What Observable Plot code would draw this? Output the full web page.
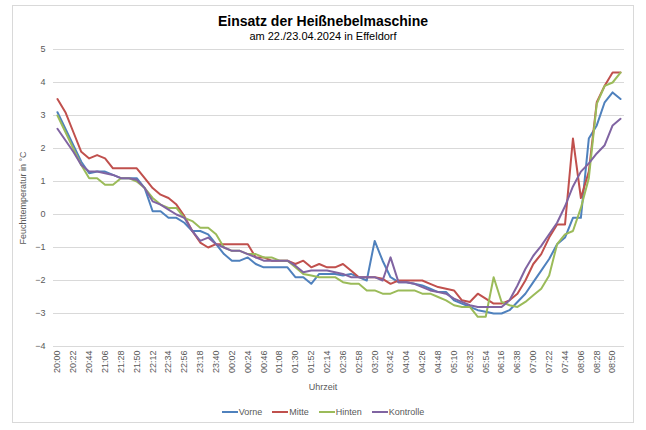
<!DOCTYPE html>
<html>
<head>
<meta charset="utf-8">
<script src="https://cdn.jsdelivr.net/npm/d3@7"></script>
<script src="https://cdn.jsdelivr.net/npm/@observablehq/plot@0.6"></script>
<style>
  body { margin: 0; background: #fff; font-family: "Liberation Sans", Arial, sans-serif; }
  #wrap { position: relative; width: 646px; height: 430px; overflow: hidden; background: #fff; }
  #frame { position: absolute; left: 12px; top: 5px; width: 620px; height: 416px; border: 1px solid #d9d9d9; }
  #title { position: absolute; left: 12px; width: 622px; top: 13px; text-align: center; font-weight: bold; font-size: 14px; color: #000; line-height: 16px; }
  #subtitle { position: absolute; left: 12px; width: 622px; top: 30px; text-align: center; font-size: 11px; color: #000; line-height: 12px; }
  #chart { position: absolute; left: 0; top: 40px; }
  #xlabel { position: absolute; left: 273px; width: 100px; top: 381px; text-align: center; font-size: 9px; color: #595959; line-height: 12px; }
  #legend { position: absolute; left: 0; width: 646px; top: 406px; display: flex; justify-content: center; align-items: center; font-size: 9px; color: #595959; line-height: 12px; }
  .item { display: flex; align-items: center; margin: 0 5px; }
  .sw { width: 16px; height: 2px; margin-right: 1px; }
</style>
</head>
<body>
<div id="wrap">
  <div id="frame"></div>
  <div id="title">Einsatz der Heißnebelmaschine</div>
  <div id="subtitle">am 22./23.04.2024 in Effeldorf</div>
  <div id="chart"></div>
  <div id="xlabel">Uhrzeit</div>
  <div id="legend"></div>
</div>
<script>
// Categories (every 11 minutes)
const times = ["20:00","20:11","20:22","20:33","20:44","20:55","21:06","21:17","21:28","21:39",
  "21:50","22:01","22:12","22:23","22:34","22:45","22:56","23:07","23:18","23:29",
  "23:40","23:51","00:02","00:13","00:24","00:35","00:46","00:57","01:08","01:19",
  "01:30","01:41","01:52","02:03","02:14","02:25","02:36","02:47","02:58","03:09",
  "03:20","03:31","03:42","03:53","04:04","04:15","04:26","04:37","04:48","04:59",
  "05:10","05:21","05:32","05:43","05:54","06:05","06:16","06:27","06:38","06:49",
  "07:00","07:11","07:22","07:33","07:44","07:55","08:06","08:17","08:28","08:39",
  "08:50","09:01"];

// Tick labels shown on the x axis
const xTicks = ["20:00","20:22","20:44","21:06","21:28","21:50","22:12","22:34","22:56","23:18",
  "23:40","00:02","00:24","00:46","01:08","01:30","01:52","02:14","02:36","02:58",
  "03:20","03:42","04:04","04:26","04:48","05:10","05:32","05:54","06:16","06:38",
  "07:00","07:22","07:44","08:06","08:28","08:50"];

const yTicks = [-4, -3, -2, -1, 0, 1, 2, 3, 4, 5];

// Series values (°C)
const vorne = [3.1, 2.6, 2.1, 1.6, 1.25, 1.3, 1.3, 1.2, 1.1, 1.1,
  1.1, 0.8, 0.1, 0.1, -0.1, -0.1, -0.25, -0.5, -0.5, -0.6,
  -0.9, -1.2, -1.4, -1.4, -1.3, -1.5, -1.6, -1.6, -1.6, -1.6,
  -1.9, -1.9, -2.1, -1.8, -1.8, -1.8, -1.85, -1.8, -1.9, -2.0,
  -0.8, -1.4, -1.9, -2.05, -2.05, -2.1, -2.15, -2.25, -2.35, -2.35,
  -2.6, -2.7, -2.8, -2.9, -2.95, -3.0, -3.0, -2.9, -2.65, -2.4,
  -2.05, -1.7, -1.35, -0.9, -0.7, -0.1, -0.1, 2.3, 2.7, 3.4,
  3.7, 3.5];

const mitte = [3.5, 3.1, 2.5, 1.9, 1.7, 1.8, 1.7, 1.4, 1.4, 1.4,
  1.4, 1.1, 0.8, 0.6, 0.5, 0.3, -0.05, -0.5, -0.85, -1.0,
  -0.9, -0.9, -0.9, -0.9, -0.9, -1.3, -1.3, -1.4, -1.4, -1.4,
  -1.5, -1.4, -1.6, -1.5, -1.6, -1.6, -1.5, -1.7, -1.9, -1.9,
  -1.9, -1.95, -2.1, -2.0, -2.0, -2.0, -2.0, -2.1, -2.2, -2.25,
  -2.3, -2.6, -2.65, -2.4, -2.55, -2.7, -2.7, -2.6, -2.4, -2.0,
  -1.5, -1.2, -0.7, -0.3, -0.3, 2.3, 0.5, 1.3, 3.4, 3.9,
  4.3, 4.3];

const hinten = [3.0, 2.5, 2.0, 1.5, 1.1, 1.1, 0.9, 0.9, 1.1, 1.1,
  1.0, 0.8, 0.5, 0.3, 0.2, 0.2, -0.1, -0.2, -0.4, -0.4,
  -0.6, -1.0, -1.1, -1.1, -1.2, -1.2, -1.3, -1.3, -1.4, -1.4,
  -1.6, -1.8, -1.85, -1.9, -1.9, -1.9, -2.05, -2.1, -2.1, -2.3,
  -2.3, -2.4, -2.4, -2.3, -2.3, -2.3, -2.4, -2.4, -2.5, -2.6,
  -2.75, -2.8, -2.8, -3.1, -3.1, -1.9, -2.65, -2.75, -2.8, -2.65,
  -2.45, -2.25, -1.85, -0.9, -0.6, -0.5, 0.2, 1.1, 3.35, 3.9,
  4.0, 4.3];

const kontrolle = [2.6, 2.25, 1.9, 1.5, 1.3, 1.3, 1.25, 1.2, 1.1, 1.1,
  1.05, 0.8, 0.4, 0.3, 0.15, 0.0, -0.1, -0.5, -0.8, -0.7,
  -0.9, -1.0, -1.1, -1.1, -1.2, -1.3, -1.4, -1.4, -1.4, -1.4,
  -1.55, -1.75, -1.7, -1.7, -1.7, -1.75, -1.8, -1.9, -1.9, -1.9,
  -1.9, -2.0, -1.3, -2.05, -2.05, -2.1, -2.2, -2.3, -2.35, -2.4,
  -2.55, -2.65, -2.75, -2.8, -2.8, -2.8, -2.8, -2.6, -2.15, -1.65,
  -1.25, -0.95, -0.6, -0.25, 0.25, 0.85, 1.3, 1.55, 1.85, 2.1,
  2.7, 2.9];

const seriesNames = ["Vorne", "Mitte", "Hinten", "Kontrolle"];
const seriesColors = ["#4F81BD", "#C0504D", "#9BBB59", "#8064A2"];
const seriesValues = [vorne, mitte, hinten, kontrolle];

const data = [];
seriesNames.forEach((name, s) => {
  seriesValues[s].forEach((v, i) => data.push({time: times[i], value: v, series: name}));
});

const font = '"Liberation Sans", Arial, sans-serif';

const chart = Plot.plot({
  width: 646,
  height: 340,
  marginTop: 9,
  marginBottom: 34,
  marginLeft: 53,
  marginRight: 22,
  style: {fontFamily: font, fontSize: "9px", color: "#595959", background: "transparent", overflow: "visible"},
  x: {type: "point", domain: times, padding: 0.5},
  y: {domain: [-4, 5]},
  color: {domain: seriesNames, range: seriesColors},
  marks: [
    Plot.ruleY(yTicks, {stroke: "#d9d9d9", strokeWidth: 1}),
    Plot.axisX({ticks: xTicks, tickSize: 0, tickRotate: -90, tickPadding: 4, textAnchor: "end",
      label: null, fill: "#595959"}),
    Plot.axisY({ticks: yTicks, tickSize: 0, tickPadding: 8,
      label: "Feuchttemperatur in °C", labelAnchor: "center", labelOffset: 34, labelArrow: "none", fill: "#595959"}),
    Plot.line(data, {x: "time", y: "value", z: "series", stroke: "series", strokeWidth: 2})
  ]
});
document.getElementById("chart").appendChild(chart);

const legend = document.getElementById("legend");
seriesNames.forEach((name, i) => {
  const item = document.createElement("div");
  item.className = "item";
  const sw = document.createElement("div");
  sw.className = "sw";
  sw.style.background = seriesColors[i];
  const label = document.createElement("span");
  label.textContent = name;
  item.appendChild(sw);
  item.appendChild(label);
  legend.appendChild(item);
});
</script>
</body>
</html>
